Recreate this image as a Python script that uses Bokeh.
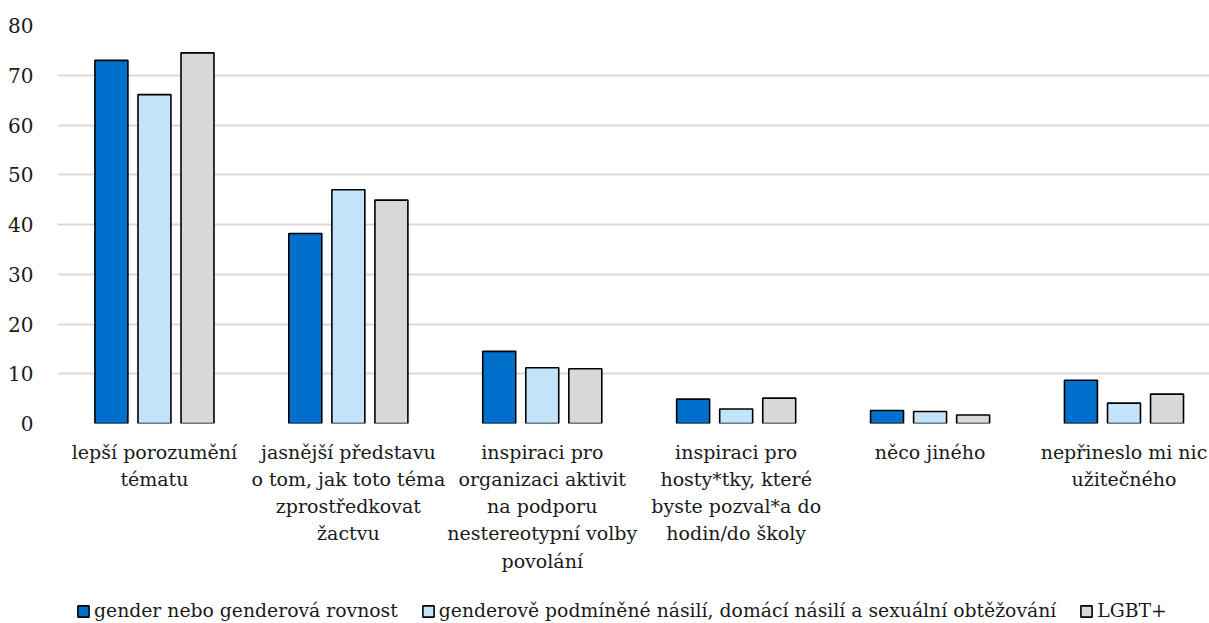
from bokeh.plotting import figure
from bokeh.layouts import column
from bokeh.models import Range1d, FixedTicker, Legend, LegendItem
from bokeh.embed import file_html
from bokeh.resources import INLINE

categories = [
    "lepší porozumění\ntématu",
    "jasnější představu\no tom, jak toto téma\nzprostředkovat\nžactvu",
    "inspiraci pro\norganizaci aktivit\nna podporu\nnestereotypní volby\npovolání",
    "inspiraci pro\nhosty*tky, které\nbyste pozval*a do\nhodin/do školy",
    "něco jiného",
    "nepřineslo mi nic\nužitečného",
]
series_names = [
    "gender nebo genderová rovnost",
    "genderově podmíněné násilí, domácí násilí a sexuální obtěžování",
    "LGBT+",
]
gender = [73.0, 38.2, 14.5, 4.9, 2.6, 8.7]
violence = [66.1, 47.0, 11.2, 2.9, 2.4, 4.1]
lgbt = [74.5, 44.9, 11.0, 5.1, 1.7, 5.9]
y_ticks = [0, 10, 20, 30, 40, 50, 60, 70, 80]

colors = ["#0070CC", "#C3E3FB", "#D9D7D8"]
FONT = "DejaVu Serif"
TEXT = "#1a1a1a"
LEGEND_H = 48

p = figure(
    frame_width=1152, frame_height=398,
    x_range=Range1d(0, 5.941), y_range=Range1d(0, 80),
    output_backend="svg", toolbar_location=None,
    min_border_left=57, min_border_right=0, min_border_top=25,
    min_border_bottom=623 - 25 - 398 - LEGEND_H,
)
p.outline_line_color = None

centers = [i + 0.5 for i in range(len(categories))]
offsets = [-0.222, 0.0, 0.222]
for vals, off, col in zip([gender, violence, lgbt], offsets, colors):
    p.vbar(x=[c + off for c in centers], top=vals, width=0.17, bottom=0,
           fill_color=col, line_color="black", line_width=1.6)

# category axis
p.xaxis.ticker = FixedTicker(ticks=centers)
p.xaxis.major_label_overrides = {c: lab for c, lab in zip(centers, categories)}
p.xaxis.axis_line_color = None
p.xaxis.major_tick_line_color = None
p.xaxis.minor_tick_line_color = None
p.xaxis.major_label_text_font = FONT
p.xaxis.major_label_text_font_size = "19px"
p.xaxis.major_label_text_color = TEXT
p.xaxis.major_label_text_line_height = 1.24
p.xaxis.major_label_standoff = 11

# value axis
p.yaxis.ticker = FixedTicker(ticks=y_ticks)
p.yaxis.axis_line_color = None
p.yaxis.major_tick_line_color = None
p.yaxis.minor_tick_line_color = None
p.yaxis.major_label_text_font = FONT
p.yaxis.major_label_text_font_size = "20px"
p.yaxis.major_label_text_color = TEXT
p.yaxis.major_label_standoff = 18

p.xgrid.grid_line_color = None
p.ygrid.ticker = FixedTicker(ticks=y_ticks)
p.ygrid.grid_line_color = "#D9D9D9"
p.ygrid.grid_line_width = 2

# legend strip under the chart; each swatch renderer holds one zero-size bar
lg = figure(
    frame_width=1209, frame_height=LEGEND_H,
    x_range=Range1d(0, 1), y_range=Range1d(0, 1),
    output_backend="svg", toolbar_location=None,
    x_axis_location=None, y_axis_location=None,
    min_border=0,
)
lg.outline_line_color = None
lg.xgrid.grid_line_color = None
lg.ygrid.grid_line_color = None
swatches = [
    lg.vbar(x=[0.5], bottom=[0.5], top=[0.5], width=0,
            fill_color=col, line_color="black", line_width=1.6)
    for col in colors
]
legend = Legend(
    items=[LegendItem(label=n, renderers=[r]) for n, r in zip(series_names, swatches)],
    orientation="horizontal", location=(76, 2),
    label_text_font=FONT, label_text_font_size="18.8px", label_text_color=TEXT,
    glyph_width=14, glyph_height=14, label_standoff=4, spacing=23,
    border_line_color=None, background_fill_alpha=0,
    margin=0, padding=0,
)
lg.add_layout(legend)

layout = column(p, lg, spacing=0)
open("out.html", "w").write(file_html(layout, INLINE))
